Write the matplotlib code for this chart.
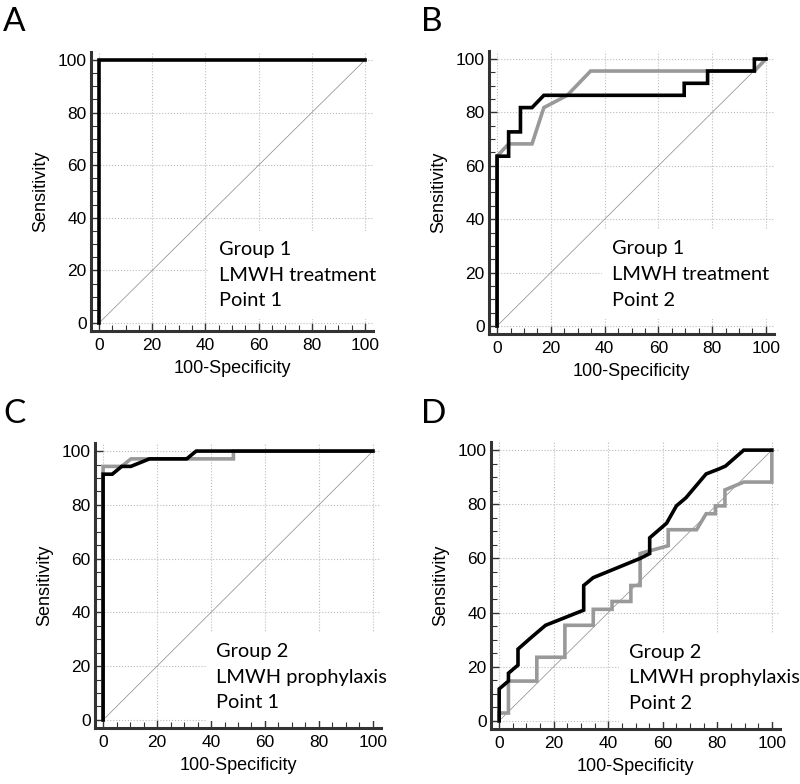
import matplotlib
matplotlib.use("Agg")
import matplotlib.pyplot as plt
from matplotlib.ticker import MultipleLocator

# ---------------- data ----------------
panel_letters = ["A", "B", "C", "D"]
panel_texts = ["Group 1\nLMWH treatment\nPoint 1",
               "Group 1\nLMWH treatment\nPoint 2",
               "Group 2\nLMWH prophylaxis\nPoint 1",
               "Group 2\nLMWH prophylaxis\nPoint 2"]
major_ticks = [0, 20, 40, 60, 80, 100]
tick_labels = ["0", "20", "40", "60", "80", "100"]

# Panel A
a_black_x = [0, 0, 100]
a_black_y = [0, 100, 100]

# Panel B
b_gray_x = [0, 0, 4.3, 13.0, 17.4, 26.1, 34.8, 95.7, 100]
b_gray_y = [0, 63.6, 68.2, 68.2, 81.8, 86.4, 95.5, 95.5, 100]
b_black_x = [0, 0, 4.3, 4.3, 8.7, 8.7, 13.0, 17.4, 69.6, 69.6, 78.3, 78.3, 95.7, 95.7, 100]
b_black_y = [0, 63.6, 63.6, 72.7, 72.7, 81.8, 81.8, 86.4, 86.4, 90.9, 90.9, 95.5, 95.5, 100, 100]

# Panel C
c_gray_x = [0, 0, 6.9, 10.3, 48.3, 48.3, 100]
c_gray_y = [0, 94.3, 94.3, 97.1, 97.1, 100, 100]
c_black_x = [0, 0, 3.4, 6.9, 10.3, 17.2, 31.0, 34.5, 100]
c_black_y = [0, 91.4, 91.4, 94.3, 94.3, 97.1, 97.1, 100, 100]

# Panel D
d_gray_x = [0, 0, 3.4, 3.4, 13.8, 13.8, 24.1, 24.1, 34.5, 34.5, 41.4, 41.4, 48.3, 48.3,
            51.7, 51.7, 62.0, 62.0, 72.4, 75.9, 79.3, 79.3, 82.8, 82.8, 89.7, 100, 100]
d_gray_y = [0, 2.9, 2.9, 14.7, 14.7, 23.5, 23.5, 35.3, 35.3, 41.2, 41.2, 44.1, 44.1, 50.0,
            50.0, 61.8, 64.7, 70.6, 70.6, 76.5, 76.5, 79.4, 79.4, 85.3, 88.2, 88.2, 100]
d_black_x = [0, 0, 3.4, 3.4, 6.9, 6.9, 11.4, 17.0, 22.5, 31.0, 31.0, 34.5, 51.7, 55.2, 55.2,
             61.4, 65.0, 68.5, 75.9, 80.5, 83.0, 89.7, 100]
d_black_y = [0, 11.8, 14.7, 17.6, 20.6, 26.5, 30.5, 35.3, 37.5, 40.9, 50.0, 52.9, 60.0, 61.8, 67.6,
             73.0, 79.4, 82.4, 91.2, 93.0, 94.1, 100, 100]

gray_curves = [None, (b_gray_x, b_gray_y), (c_gray_x, c_gray_y), (d_gray_x, d_gray_y)]
black_curves = [(a_black_x, a_black_y), (b_black_x, b_black_y),
                (c_black_x, c_black_y), (d_black_x, d_black_y)]
text_pos = [(45, 5.2), (42.8, 6.5), (41.8, 3.2), (47.6, 3.3)]

# ---------------- layout ----------------
W, H = 800, 784
# axes boxes in pixels: left, top, right, bottom
boxes = [(91, 52, 373, 331), (489, 51, 774, 334), (95, 443, 381, 728), (491, 442, 780, 729)]
letter_pos = [(3, 31), (421, 31), (3, 423), (421, 423)]

fig = plt.figure(figsize=(W / 100, H / 100), dpi=100)
fig.patch.set_facecolor("white")

tick_font = "Liberation Sans"
text_font = "Lato"

for i in range(4):
    l, t, r, b = boxes[i]
    ax = fig.add_axes([l / W, 1 - b / H, (r - l) / W, (b - t) / H])
    ax.set_xlim(-3, 103)
    ax.set_ylim(-3, 103)
    for s in ["top", "right"]:
        ax.spines[s].set_visible(False)
    for s in ["left", "bottom"]:
        ax.spines[s].set_linewidth(2.2)
        ax.spines[s].set_color("#333333")
    ax.set_xticks(major_ticks)
    ax.set_xticklabels(tick_labels, fontfamily=tick_font, fontsize=12.5)
    ax.set_yticks(major_ticks)
    ax.set_yticklabels(tick_labels, fontfamily=tick_font, fontsize=12.5)
    ax.xaxis.set_minor_locator(MultipleLocator(5))
    ax.yaxis.set_minor_locator(MultipleLocator(5))
    ax.tick_params(axis="x", which="major", direction="in", length=6, width=1, pad=5, color="#333333")
    ax.tick_params(axis="y", which="major", direction="in", length=6, width=1, pad=3, color="#333333")
    ax.tick_params(which="minor", direction="in", length=4, width=0.8, color="#333333")
    ax.grid(True, which="major", linestyle=":", linewidth=0.8, color="#bbbbbb")
    ax.set_axisbelow(True)
    ax.set_xlabel("100-Specificity", fontfamily=tick_font, fontsize=13, labelpad=5)
    ax.set_ylabel("Sensitivity", fontfamily=tick_font, fontsize=13, labelpad=6)

    ax.plot([0, 100], [0, 100], color="#888888", linewidth=0.5, zorder=2)
    if gray_curves[i] is not None:
        gx, gy = gray_curves[i]
        ax.plot(gx, gy, color="#999999", linewidth=2.6, zorder=3, solid_joinstyle="miter")
    bx, by = black_curves[i]
    ax.plot(bx, by, color="black", linewidth=2.6, zorder=4, solid_joinstyle="miter")

    tx, ty = text_pos[i]
    ax.text(tx, ty, panel_texts[i], fontfamily=text_font, fontsize=14.4, ha="left", va="bottom",
            linespacing=1.62, zorder=5,
            bbox=dict(boxstyle="square,pad=0.5", facecolor="white", edgecolor="none"))

    lx, ly = letter_pos[i]
    fig.text(lx / W, 1 - ly / H, panel_letters[i], fontfamily=text_font, fontsize=24,
             ha="left", va="baseline")

fig.savefig("out.png", dpi=100, facecolor="white")
